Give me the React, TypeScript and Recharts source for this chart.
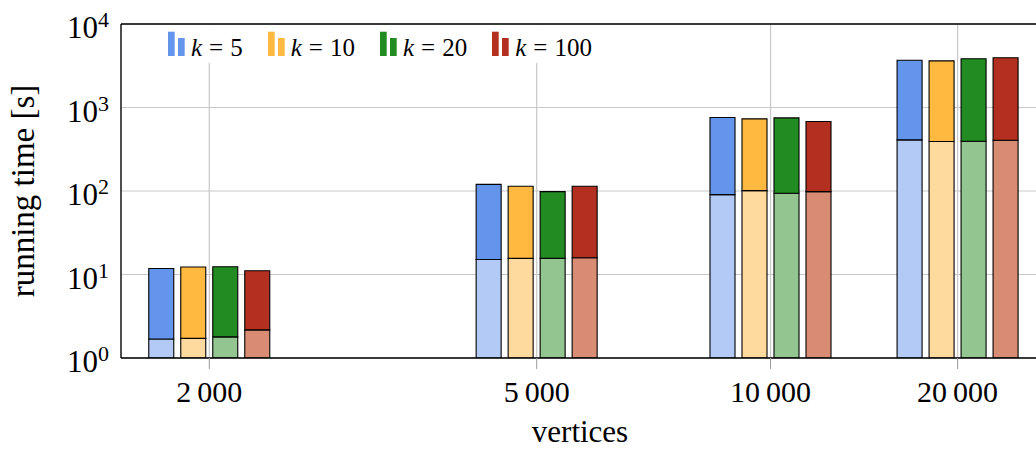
import { Bar, BarChart, CartesianGrid, XAxis, YAxis } from "recharts"

const vertexLabels = ["2\u2009000", "5\u2009000", "10\u2009000", "20\u2009000"]
// the groups are not evenly spaced along x in the original figure
const groupSlot = [0, 7, 12, 16]
const kValues = [5, 10, 20, 100]

// total running time per k (top of each bar)
const total5 = [11.8, 120, 758, 3680]
const total10 = [12.3, 114, 731, 3620]
const total20 = [12.4, 98.4, 751, 3830]
const total100 = [11.1, 114, 679, 3940]

// lighter lower part of each bar
const pre5 = [1.69, 15.1, 90.6, 410]
const pre10 = [1.72, 15.6, 101, 391]
const pre20 = [1.79, 15.6, 93.9, 394]
const pre100 = [2.17, 15.9, 98.4, 405]

const yTicks = [1, 10, 100, 1000, 10000]

const darkColors = ["#6495ED", "#FFB940", "#228B22", "#B32F1F"]
const lightColors = ["#B2CAF5", "#FFDA9F", "#92C58F", "#D98C74"]

const totals = [total5, total10, total20, total100]
const pres = [pre5, pre10, pre20, pre100]

const chartData = groupSlot.map((slot, i) => {
  const row: Record<string, number> = { slot }
  kValues.forEach((k, j) => {
    row[`pre${k}`] = pres[j][i]
    row[`rest${k}`] = totals[j][i] - pres[j][i]
  })
  return row
})

const minorTicks = yTicks.slice(0, -1).flatMap((d) => [2, 3, 4, 5, 6, 7, 8, 9].map((m) => m * d))

const xDomain: [number, number] = [-1.888, 17.74]
const yDomain: [number, number] = [1, 10000]

function XTick({ x, y, payload }: any) {
  const i = groupSlot.indexOf(payload.value)
  return (
    <text x={x} y={y + 32.5} textAnchor="middle" fontSize={30} fill="#000">
      {vertexLabels[i]}
    </text>
  )
}

function YTick({ x, y, payload }: any) {
  const exp = Math.round(Math.log10(payload.value))
  return (
    <text x={x} y={y + 14.4} textAnchor="end" fontSize={31} fill="#000">
      10
      <tspan dy={-11} fontSize={22}>
        {exp}
      </tspan>
    </text>
  )
}

function LegendIcon({ color }: { color: string }) {
  return (
    <svg width={17} height={25} style={{ verticalAlign: "baseline" }}>
      <rect x={0} y={0.7} width={6.7} height={24.3} fill={color} />
      <rect x={10} y={7} width={6.7} height={18} fill={color} />
    </svg>
  )
}

const frame = { stroke: "#000", strokeWidth: 1.3 }
const tickStroke = { stroke: "#999", strokeWidth: 1 }
const majorTickStroke = { stroke: "#888", strokeWidth: 1.3 }

export default function App() {
  return (
    <div
      style={{
        position: "relative",
        width: 1036,
        height: 452,
        overflow: "hidden",
        background: "#fff",
        fontFamily: "'Liberation Serif', serif",
      }}
    >
      <style>{`body{margin:0}`}</style>
      <BarChart
        width={1080}
        height={452}
        data={chartData}
        margin={{ top: 0, right: 41, bottom: 0, left: 0 }}
        barGap={7}
      >
        <CartesianGrid stroke="#c8c8c8" strokeWidth={1.2} />
        <XAxis
          dataKey="slot"
          type="number"
          domain={xDomain}
          allowDataOverflow
          ticks={groupSlot}
          interval={0}
          height={94}
          tickSize={11}
          tickMargin={0}
          tick={<XTick />}
          tickLine={tickStroke}
          axisLine={frame}
          label={{ value: "vertices", position: "insideBottom", offset: 10, fontSize: 31, fill: "#000" }}
        />
        <XAxis
          xAxisId="top"
          orientation="top"
          dataKey="slot"
          type="number"
          domain={xDomain}
          allowDataOverflow
          ticks={groupSlot}
          interval={0}
          height={24}
          tickSize={11}
          tick={false}
          tickLine={tickStroke}
          axisLine={frame}
        />
        <YAxis
          scale="log"
          domain={yDomain}
          allowDataOverflow
          ticks={yTicks}
          interval={0}
          width={121}
          tickSize={0}
          tickMargin={12}
          tickLine={false}
          tick={<YTick />}
          axisLine={frame}
          label={{
            value: "running time [s]",
            angle: -90,
            position: "insideLeft",
            offset: 22,
            fontSize: 33,
            fill: "#000",
            style: { textAnchor: "middle" },
          }}
        />
        <YAxis
          yAxisId="minorL"
          scale="log"
          domain={yDomain}
          allowDataOverflow
          ticks={minorTicks}
          interval={0}
          mirror
          width={1}
          tick={false}
          axisLine={false}
          tickSize={6}
          tickLine={tickStroke}
        />
        <YAxis
          yAxisId="majorL"
          scale="log"
          domain={yDomain}
          allowDataOverflow
          ticks={yTicks}
          interval={0}
          mirror
          width={1}
          tick={false}
          axisLine={false}
          tickSize={10}
          tickLine={majorTickStroke}
        />
        <YAxis
          yAxisId="minorR"
          orientation="right"
          scale="log"
          domain={yDomain}
          allowDataOverflow
          ticks={minorTicks}
          interval={0}
          mirror
          width={1}
          tick={false}
          axisLine={false}
          tickSize={6}
          tickLine={tickStroke}
        />
        <YAxis
          yAxisId="majorR"
          orientation="right"
          scale="log"
          domain={yDomain}
          allowDataOverflow
          ticks={yTicks}
          interval={0}
          mirror
          width={1}
          tick={false}
          axisLine={false}
          tickSize={10}
          tickLine={majorTickStroke}
        />
        {kValues.flatMap((k, j) => [
          <Bar
            key={`pre${k}`}
            dataKey={`pre${k}`}
            stackId={`k${k}`}
            fill={lightColors[j]}
            stroke="#000"
            strokeWidth={1.1}
            barSize={25}
            isAnimationActive={false}
          />,
          <Bar
            key={`rest${k}`}
            dataKey={`rest${k}`}
            stackId={`k${k}`}
            fill={darkColors[j]}
            stroke="#000"
            strokeWidth={1.1}
            barSize={25}
            isAnimationActive={false}
          />,
        ])}
      </BarChart>
      <div
        style={{
          position: "absolute",
          left: 160,
          top: 25,
          width: 435,
          height: 38,
          background: "#fff",
        }}
      >
        <div
          style={{
            position: "absolute",
            left: 8,
            top: 4,
            lineHeight: "38px",
            fontSize: 25,
            whiteSpace: "nowrap",
            color: "#000",
          }}
        >
          {kValues.map((k, j) => (
            <span key={k} style={{ marginRight: 25 }}>
              <LegendIcon color={darkColors[j]} />
              <span style={{ marginLeft: 6 }}>
                <i>k</i>
                <span style={{ margin: "0 7px" }}>=</span>
                {k}
              </span>
            </span>
          ))}
        </div>
      </div>
    </div>
  )
}
